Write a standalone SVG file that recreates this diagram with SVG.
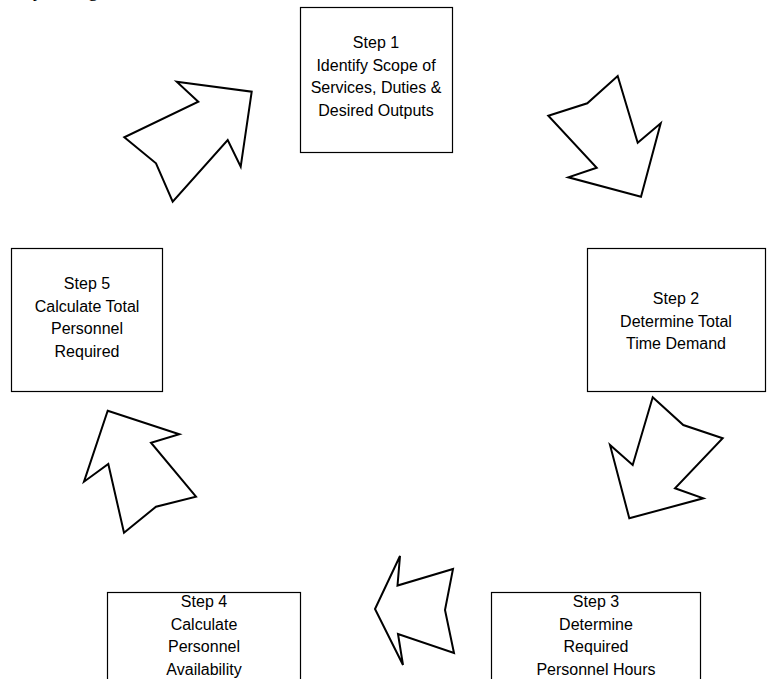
<svg xmlns="http://www.w3.org/2000/svg" width="768" height="679" viewBox="0 0 768 679">
<style>
.box{fill:#fff;stroke:#000;stroke-width:1.2}
.lbl{font-family:"Liberation Sans",Arial,sans-serif;font-size:16px;fill:#000;text-anchor:middle}
.arr{fill:#fff;stroke:#000;stroke-width:2;stroke-linejoin:miter}
.cut{font-family:"Liberation Serif","Times New Roman",serif;font-size:20px;fill:#000}
</style>
<rect width="768" height="679" fill="#fff"/>
<g id="cut-text">
<text class="cut" x="33" y="-4">y</text>
<text class="cut" x="88" y="-4">g</text>
</g>
<g id="step1">
<rect class="box" x="300.5" y="7.5" width="152" height="145"/>
<text class="lbl"><tspan x="376" y="48">Step 1</tspan><tspan x="376" y="70.7">Identify Scope of</tspan><tspan x="376" y="93.4">Services, Duties &amp;</tspan><tspan x="376" y="116.1">Desired Outputs</tspan></text>
</g>
<g id="step2">
<rect class="box" x="587.5" y="248.5" width="178" height="143"/>
<text class="lbl"><tspan x="676" y="304">Step 2</tspan><tspan x="676" y="326.7">Determine Total</tspan><tspan x="676" y="349.4">Time Demand</tspan></text>
</g>
<g id="step3">
<rect class="box" x="491.5" y="592.5" width="209" height="100"/>
<text class="lbl"><tspan x="596" y="607">Step 3</tspan><tspan x="596" y="629.7">Determine</tspan><tspan x="596" y="652.4">Required</tspan><tspan x="596" y="675.1">Personnel Hours</tspan></text>
</g>
<g id="step4">
<rect class="box" x="107.5" y="592.5" width="193" height="100"/>
<text class="lbl"><tspan x="204" y="607">Step 4</tspan><tspan x="204" y="629.7">Calculate</tspan><tspan x="204" y="652.4">Personnel</tspan><tspan x="204" y="675.1">Availability</tspan></text>
</g>
<g id="step5">
<rect class="box" x="11.5" y="248.5" width="151" height="143"/>
<text class="lbl"><tspan x="87" y="289">Step 5</tspan><tspan x="87" y="311.7">Calculate Total</tspan><tspan x="87" y="334.4">Personnel</tspan><tspan x="87" y="357.1">Required</tspan></text>
</g>
<g id="connectors">
<polygon class="arr" points="176.7,81.7 251.7,91.7 240.7,166.7 227.7,140 172.7,201.7 156,163.3 124.3,137.3 198.3,101.7"/>
<polygon class="arr" points="617.7,76 637.7,142.7 660.7,123.3 641,196.7 568.3,177.3 596.7,167.7 548.3,115.7 587.3,103.3"/>
<polygon class="arr" points="652.7,397.3 683.3,425 722.7,438.3 675,488.3 703.3,498.3 629.3,518.3 610,445 632.7,465"/>
<polygon class="arr" points="400,556 397.5,585.5 453,569 445,610 454,653 398,634 403,665 375,609"/>
<polygon class="arr" points="107.7,410.7 179.3,434.3 151,442.7 196,496.7 156,506.7 124,532.7 108.3,464 84,481.7"/>
</g>
</svg>
